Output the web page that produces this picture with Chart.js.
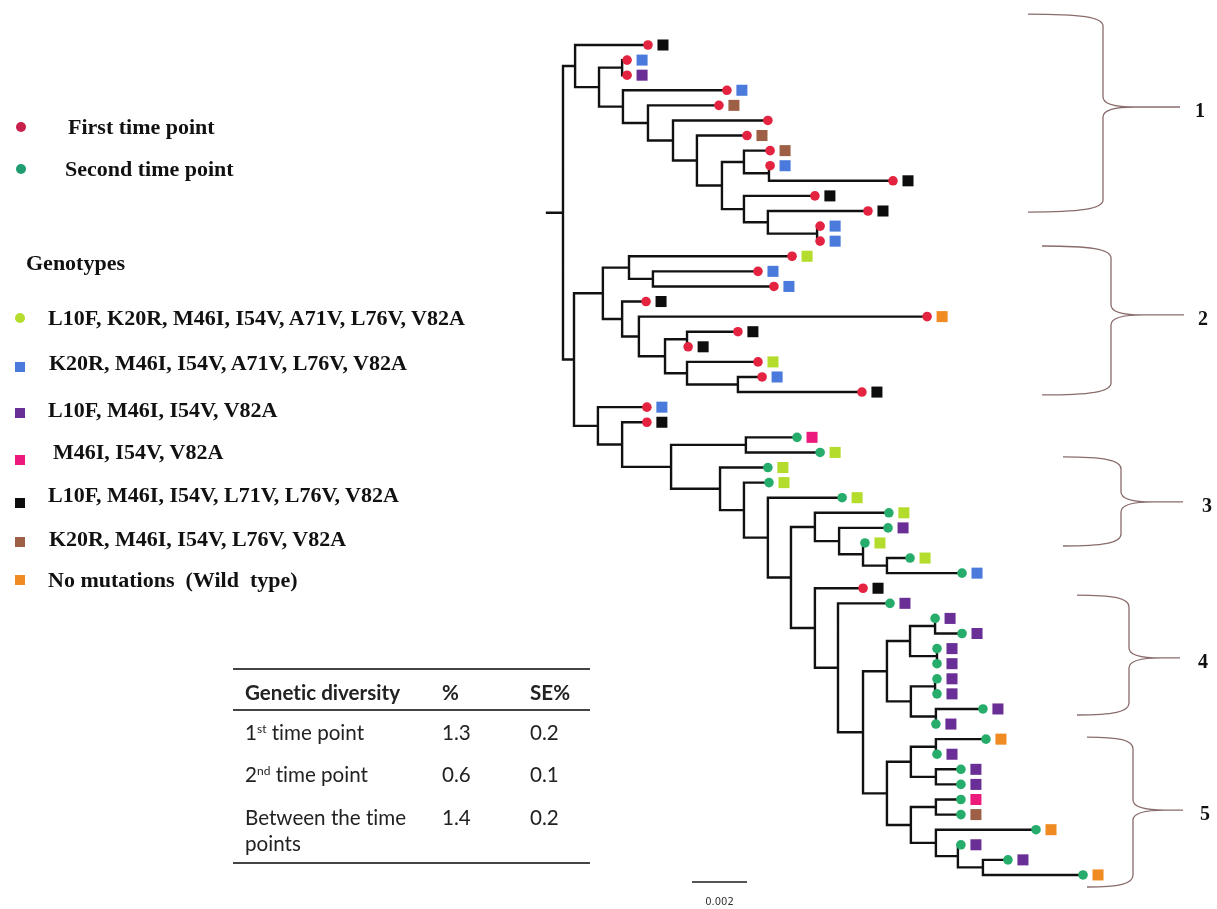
<!DOCTYPE html>
<html><head><meta charset="utf-8">
<script src="https://cdn.jsdelivr.net/npm/chart.js@4.4.0/dist/chart.umd.min.js"></script>
<style>
html,body{margin:0;padding:0;background:#fff;}
#wrap{position:relative;width:1217px;height:909px;overflow:hidden;background:#fff;}
canvas{position:absolute;left:0;top:0;}
.t{position:absolute;white-space:pre;font-variant-ligatures:none;}
.leg{font-family:"Liberation Serif","DejaVu Serif",serif;font-weight:bold;font-size:22px;color:#111;height:30px;line-height:30px;}
.mk{position:absolute;}
.tab{font-family:Lato,"Open Sans",sans-serif;font-size:20.6px;color:#222;height:30px;line-height:30px;}
.tab sup{font-size:12px;vertical-align:7px;line-height:0;}
.hl{position:absolute;left:233px;width:357px;height:1.5px;background:#444;}
</style></head>
<body><div id="wrap"><canvas id="c" width="1217" height="909"></canvas></div>
<script>
// ---------------- DATA ----------------
// Internal nodes: parent index and depth (substitutions/site)
const nodeParent = [-1,0,1,2,2,4,5,6,7,8,9,8,11,12,
  0,14,15,16,15,18,19,20,20,22,
  14,24,25,26,26,28,29,30,31,32,33,34,
  31,36,37,38,39,40,40,39,43,43,38,46,47,47,46,50,50,52,53];
const nodeDepth = [0,0.00044,0.00131,0.00215,0.00218,0.00309,0.00400,0.00487,0.00578,0.00658,0.00749,0.00658,0.00745,0.00924,
  0.00040,0.00145,0.00240,0.00327,0.00215,0.00276,0.00371,0.00451,0.00451,0.00636,
  0.00127,0.00215,0.00393,0.00665,0.00571,0.00658,0.00745,0.00829,0.00916,0.01004,0.01091,0.01178,
  0.00916,0.01000,0.01091,0.01178,0.01262,0.01353,0.01360,0.01265,0.01353,0.01356,0.01178,0.01265,0.01356,0.01356,0.01265,0.01356,0.01356,0.01436,0.01527];
// Tips (top to bottom): parent node, depth, time point (1/2), genotype (-1 none)
const tipParent = [1,3,3,4,5,6,7,9,10,10,11,12,13,13,
  16,17,17,18,19,21,21,22,23,23,
  24,25,
  27,27,28,29,30,32,33,34,35,35,
  36,37,
  41,41,42,42,44,44,45,45,
  48,48,49,49,51,51,52,53,54,54];
const tipDepth = [0.00309,0.00233,0.00233,0.00596,0.00567,0.00745,0.00669,0.00753,0.00753,0.01200,0.00916,0.01109,0.00935,0.00935,
  0.00833,0.00709,0.00767,0.00302,0.01324,0.00636,0.00455,0.00709,0.00724,0.01087,
  0.00305,0.00305,
  0.00851,0.00935,0.00745,0.00749,0.01015,0.01185,0.01182,0.01098,0.01262,0.01451,
  0.01091,0.01189,
  0.01353,0.01451,0.01360,0.01360,0.01360,0.01360,0.01527,0.01356,
  0.01538,0.01360,0.01447,0.01447,0.01447,0.01447,0.01720,0.01447,0.01618,0.01891];
const tipTime = [1,1,1,1,1,1,1,1,1,1,1,1,1,1,
  1,1,1,1,1,1,1,1,1,1,
  1,1,
  2,2,2,2,2,2,2,2,2,2,
  1,2,
  2,2,2,2,2,2,2,2,
  2,2,2,2,2,2,2,2,2,2];
const tipGenotype = [4,1,2,1,5,-1,5,5,1,4,4,4,1,1,
  0,1,1,4,6,4,4,0,1,4,
  1,4,
  3,0,0,0,0,0,2,0,0,1,
  4,2,
  2,2,2,2,2,2,2,2,
  6,2,2,2,3,5,6,2,2,6];

const timeLabels = ['First time point','Second time point'];
const timeColors = ['#e3233f','#26ad6b'];
const genotypeLabels = ['L10F, K20R, M46I, I54V, A71V, L76V, V82A','K20R, M46I, I54V, A71V, L76V, V82A','L10F, M46I, I54V, V82A','M46I, I54V, V82A','L10F, M46I, I54V, L71V, L76V, V82A','K20R, M46I, I54V, L76V, V82A','No mutations  (Wild  type)'];
const genotypeColors = ['#b3dc2c','#4a7bdc','#6a2f97','#ec1b7b','#0d0d0d','#9d6047','#f08a23'];

const cladeLabels = ['1','2','3','4','5'];
const cladeTop = [-2.05,13.32,27.30,36.45,45.86];
const cladeMid = [4.11,17.89,30.28,40.62,50.70];
const cladeBottom = [11.07,23.19,33.20,44.40,55.80];

const scaleBarLength = 0.002;
const scaleBarLabel = '0.002';

const tableHeader = ['Genetic diversity','%','SE%'];
const tableRowLabels = ['1<sup>st</sup> time point','2<sup>nd</sup> time point','Between the time<br>points'];
const diversityPct = ['1.3','0.6','1.4'];
const diversitySE = ['0.2','0.1','0.2'];

// ---------------- LAYOUT ----------------
const X_MIN = -563/27500, X_MAX = (1217-563)/27500;
const Y_MIN = -45/15.09, Y_MAX = (909-45)/15.09;
const ROOT_STUB = -0.00058;
const SQ_OFFSET = 15/27500;
const SB_X = (692-563)/27500, SB_Y = (882-45)/15.09;

// compute node y positions
const nNodes = nodeParent.length;
const children = Array.from({length:nNodes},()=>[]);
nodeParent.forEach((p,i)=>{ if(p>=0) children[p].push({type:'n',i}); });
tipParent.forEach((p,i)=>children[p].push({type:'t',i}));
const nodeY = new Array(nNodes).fill(null);
function yOf(c){ return c.type==='t' ? c.i : computeY(c.i); }
function dOf(c){ return c.type==='t' ? tipDepth[c.i] : nodeDepth[c.i]; }
function computeY(n){
  if(nodeY[n]!==null) return nodeY[n];
  const ys = children[n].map(yOf);
  nodeY[n] = (Math.min(...ys)+Math.max(...ys))/2;
  return nodeY[n];
}
computeY(0);
const branchPts = [];
const GAP = {x:NaN,y:NaN};
branchPts.push({x:ROOT_STUB,y:nodeY[0]},{x:0,y:nodeY[0]},GAP);
for(let n=0;n<nNodes;n++){
  const cs = children[n].slice().sort((a,b)=>yOf(a)-yOf(b));
  const top = cs[0], bot = cs[cs.length-1];
  branchPts.push({x:dOf(top),y:yOf(top)},{x:nodeDepth[n],y:yOf(top)},{x:nodeDepth[n],y:yOf(bot)},{x:dOf(bot),y:yOf(bot)},GAP);
  for(let k=1;k<cs.length-1;k++){
    branchPts.push({x:nodeDepth[n],y:yOf(cs[k])},{x:dOf(cs[k]),y:yOf(cs[k])},GAP);
  }
}

const datasets = [];
datasets.push({data:branchPts,showLine:true,borderColor:'#111',borderWidth:2.4,borderCapStyle:'square',borderJoinStyle:'miter',pointRadius:0,spanGaps:false,order:5,clip:false});
datasets.push({data:[{x:SB_X,y:SB_Y},{x:SB_X+scaleBarLength,y:SB_Y}],showLine:true,borderColor:'#555',borderWidth:2,pointRadius:0,order:5});
genotypeColors.forEach((col,g)=>{
  const pts=[];
  tipGenotype.forEach((gg,i)=>{ if(gg===g) pts.push({x:tipDepth[i]+SQ_OFFSET,y:i}); });
  datasets.push({data:pts,pointStyle:'rect',pointRadius:7.8,backgroundColor:col,borderWidth:0,order:3});
});
timeColors.forEach((col,t)=>{
  const pts=[];
  tipTime.forEach((tt,i)=>{ if(tt===t+1) pts.push({x:tipDepth[i],y:i}); });
  datasets.push({data:pts,pointStyle:'circle',pointRadius:4.8,backgroundColor:col,borderWidth:0,order:1});
});

const annot = {
  id:'annot',
  afterDraw(chart){
    const ctx=chart.ctx, ys=chart.scales.y, xs=chart.scales.x;
    ctx.save();
    ctx.fillStyle='#333'; ctx.font='10px "DejaVu Sans", sans-serif'; ctx.textAlign='center'; ctx.textBaseline='middle';
    ctx.fillText(scaleBarLabel,(xs.getPixelForValue(SB_X)+xs.getPixelForValue(SB_X+scaleBarLength))/2, ys.getPixelForValue(SB_Y)+20);
    const bx = [[1028,1103,1180,1200],[1042,1111,1184,1203],[1063,1121,1183,1207],[1077,1129,1180,1203],[1087,1133,1183,1205]];
    ctx.strokeStyle='#8a6c6c'; ctx.lineWidth=1.3;
    cladeLabels.forEach((lab,i)=>{
      const [x0,xv,xt,xl]=bx[i];
      const yT=ys.getPixelForValue(cladeTop[i]), yM=ys.getPixelForValue(cladeMid[i]), yB=ys.getPixelForValue(cladeBottom[i]);
      ctx.beginPath();
      ctx.moveTo(x0,yT);
      ctx.bezierCurveTo(x0+(xv-x0)*0.7,yT,xv,yT+3,xv,yT+12);
      ctx.lineTo(xv,yM-10);
      ctx.bezierCurveTo(xv,yM-2,xv+14,yM,xv+32,yM);
      ctx.lineTo(xt,yM);
      ctx.moveTo(xv+32,yM);
      ctx.bezierCurveTo(xv+14,yM,xv,yM+2,xv,yM+10);
      ctx.lineTo(xv,yB-12);
      ctx.bezierCurveTo(xv,yB-3,x0+(xv-x0)*0.7,yB,x0,yB);
      ctx.stroke();
      ctx.fillStyle='#111'; ctx.font='bold 20px "Liberation Serif", serif'; ctx.textAlign='center'; ctx.textBaseline='middle';
      ctx.fillText(lab,xl,yM+5);
    });
    ctx.restore();
  }
};

new Chart(document.getElementById('c'),{
  type:'scatter',
  data:{datasets},
  options:{
    responsive:false, animation:false, devicePixelRatio:1,
    layout:{padding:0, autoPadding:false},
    plugins:{legend:{display:false},tooltip:{enabled:false}},
    scales:{
      x:{type:'linear',display:false,min:X_MIN,max:X_MAX},
      y:{type:'linear',display:false,reverse:true,min:Y_MIN,max:Y_MAX}
    }
  },
  plugins:[annot]
});

// ---------------- HTML legend & table ----------------
const wrap=document.getElementById('wrap');
function addDiv(cls,html,left,top,style){
  const d=document.createElement('div'); d.className=cls; d.innerHTML=html;
  d.style.left=left+'px'; d.style.top=top+'px'; if(style) Object.assign(d.style,style); wrap.appendChild(d); return d;
}
const timeLayout=[[68,127],[65,169]];
timeLabels.forEach((lab,i)=>{
  addDiv('mk','',16,timeLayout[i][1]-5,{width:10+'px',height:10+'px',borderRadius:'50%',background:i===0?'#c81f4b':'#1f9d71'});
  addDiv('t leg',lab,timeLayout[i][0],timeLayout[i][1]-15);
});
addDiv('t leg','Genotypes',26,263-15);
const gLayout=[[48,318,318],[49,363,367],[48,410,413],[53,452,460],[48,495,503],[49,539,542],[48,580,580]];
genotypeLabels.forEach((lab,i)=>{
  const [x,y,my]=gLayout[i];
  addDiv('mk','',15,my-5,{width:'10px',height:'10px',background:genotypeColors[i],borderRadius:i===0?'50%':'0'});
  addDiv('t leg',lab,x,y-15);
});
// table
addDiv('hl','',233,668);
addDiv('hl','',233,709);
addDiv('hl','',233,862);
const colX=[245,442,530];
tableHeader.forEach((h,i)=>addDiv('t tab','<b>'+h+'</b>',colX[i],692-15));
const rowY=[732,774,817];
tableRowLabels.forEach((lab,r)=>{
  addDiv('t tab',lab,colX[0],rowY[r]-15,{lineHeight:r===2?'26px':'30px',height:'auto',top:(rowY[r]-(r===2?13:15))+'px'});
  addDiv('t tab',diversityPct[r],colX[1],rowY[r]-15);
  addDiv('t tab',diversitySE[r],colX[2],rowY[r]-15);
});
</script>
</body></html>
